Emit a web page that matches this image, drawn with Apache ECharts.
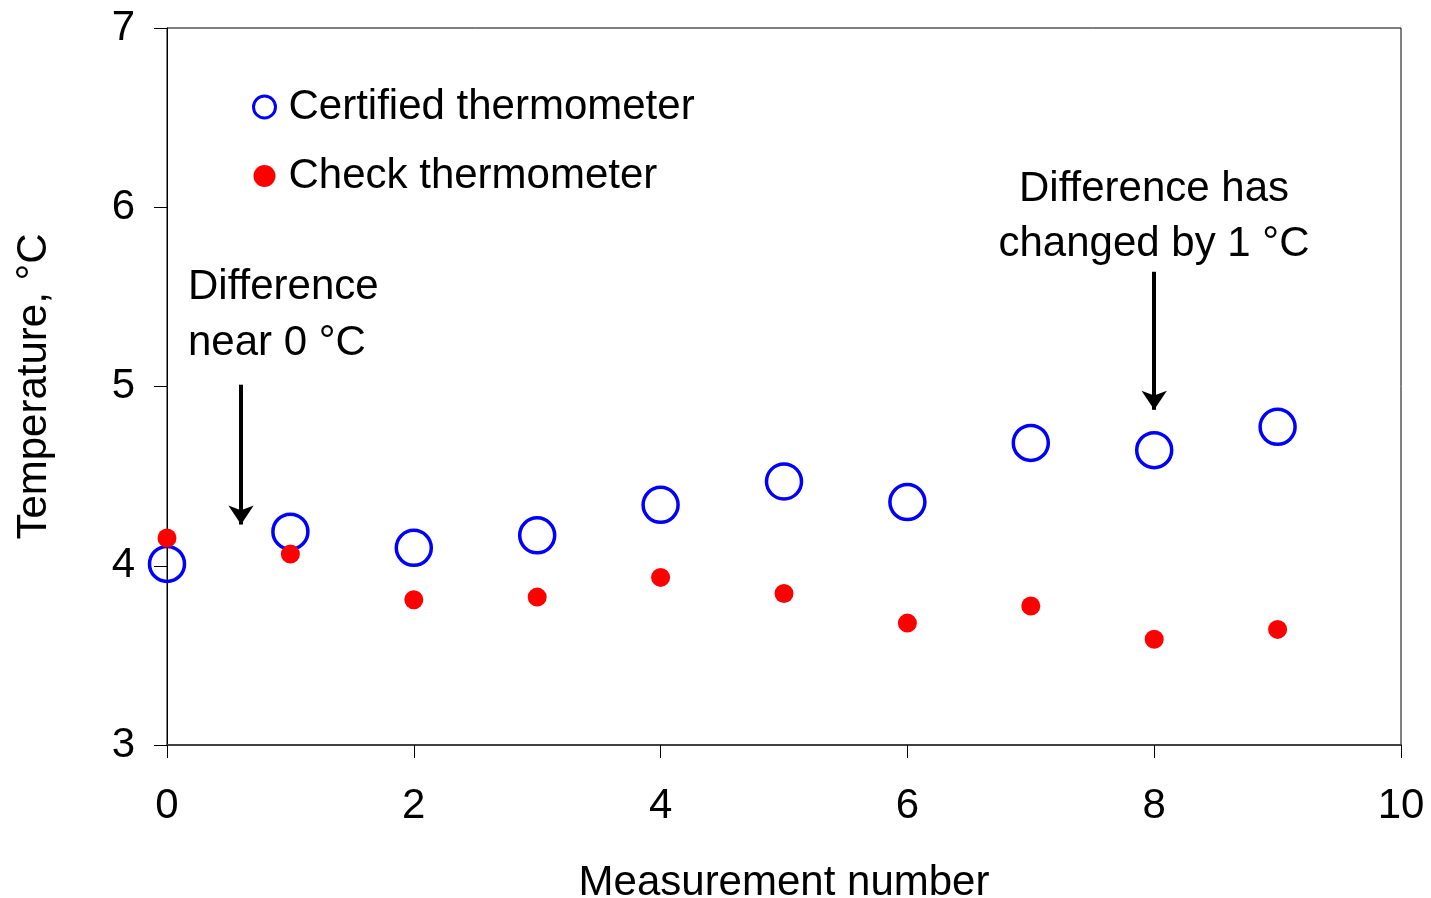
<!DOCTYPE html>
<html>
<head>
<meta charset="utf-8">
<script src="https://cdn.jsdelivr.net/npm/echarts@6/dist/echarts.min.js"></script>
<style>
  html, body { margin: 0; padding: 0; background: #fff; }
  #chart { width: 1431px; height: 898px; }
</style>
</head>
<body>
<div id="chart"></div>
<script>
// measurement numbers and readings (°C)
const measurement = [0, 1, 2, 3, 4, 5, 6, 7, 8, 9];
const certified = [4.01, 4.19, 4.10, 4.17, 4.34, 4.47, 4.355, 4.685, 4.645, 4.775];
const check = [4.155, 4.065, 3.81, 3.825, 3.935, 3.845, 3.68, 3.775, 3.59, 3.645];

// annotation arrows in data units: [x, yStart, yEnd]
const arrowNear0 = [0.6, 5.01, 4.23];
const arrowChanged = [8, 5.64, 4.87];

const FONT = "Liberation Sans, Arial, sans-serif";
const FS = 42;

const chart = echarts.init(document.getElementById("chart"));

const option = {
  animation: false,
  backgroundColor: "#fff",
  textStyle: { fontFamily: FONT, color: "#000" },
  grid: {
    left: 167, right: 30, top: 28, bottom: 153,
    show: true, borderColor: "#000", borderWidth: 1,
    containLabel: false, outerBoundsMode: "none"
  },
  legend: {
    orient: "vertical",
    left: 247, top: 81,
    itemGap: 27,
    itemWidth: 22, itemHeight: 22,
    textStyle: { fontFamily: FONT, fontSize: FS, color: "#000", padding: [0, 0, 0, 8] },
    data: [
      { name: "Certified thermometer", icon: "circle",
        itemStyle: { color: "#fff", borderColor: "#0000ff", borderWidth: 3, opacity: 1 } },
      { name: "Check thermometer", icon: "circle",
        itemStyle: { color: "#ff0000", borderWidth: 0, opacity: 1 } }
    ]
  },
  xAxis: {
    type: "value",
    min: 0, max: 10, interval: 2,
    name: "Measurement number",
    nameLocation: "middle",
    nameGap: 117,
    nameTextStyle: { fontFamily: FONT, fontSize: FS, color: "#000" },
    axisLine: { show: true, lineStyle: { color: "#404040", width: 2 } },
    axisTick: { show: true, inside: false, length: 13, lineStyle: { color: "#000", width: 1 } },
    axisLabel: { fontFamily: FONT, fontSize: FS, color: "#000", margin: 40 },
    splitLine: { show: false }
  },
  yAxis: {
    type: "value",
    min: 3, max: 7, interval: 1,
    name: "Temperature, °C",
    nameLocation: "middle",
    nameGap: 112,
    nameTextStyle: { fontFamily: FONT, fontSize: FS, color: "#000" },
    axisLine: { show: true, lineStyle: { color: "#000", width: 1 } },
    axisTick: { show: true, inside: false, length: 13, lineStyle: { color: "#000", width: 1 } },
    axisLabel: { fontFamily: FONT, fontSize: FS, color: "#000", margin: 32 },
    splitLine: { show: false }
  },
  series: [
    {
      name: "Certified thermometer",
      type: "scatter",
      symbol: "circle",
      symbolSize: 35,
      clip: false,
      itemStyle: { color: "rgba(255,255,255,0)", borderColor: "#0000ff", borderWidth: 3.5, opacity: 1 },
      data: measurement.map((m, i) => [m, certified[i]]),
      markLine: {
        silent: true,
        symbol: ["none", "arrow"],
        symbolSize: [19, 19],
        label: { show: false },
        lineStyle: { color: "#000", width: 4, type: "solid", opacity: 1 },
        data: [
          [{ coord: [arrowNear0[0], arrowNear0[1]] }, { coord: [arrowNear0[0], arrowNear0[2]] }],
          [{ coord: [arrowChanged[0], arrowChanged[1]] }, { coord: [arrowChanged[0], arrowChanged[2]] }]
        ]
      }
    },
    {
      name: "Check thermometer",
      type: "scatter",
      symbol: "circle",
      symbolSize: 19,
      clip: false,
      itemStyle: { color: "#ff0000", opacity: 1 },
      data: measurement.map((m, i) => [m, check[i]])
    }
  ],
  graphic: [
    {
      type: "text", left: 188, top: 259, silent: true,
      style: { text: "Difference\nnear 0 °C", font: FS + "px " + FONT, fill: "#000", lineHeight: 56 }
    },
    {
      type: "text", x: 1154, y: 162, silent: true,
      style: { text: "Difference has\nchanged by 1 °C", font: FS + "px " + FONT, fill: "#000",
        lineHeight: 55, align: "center", verticalAlign: "top" }
    }
  ]
};

chart.setOption(option);
</script>
</body>
</html>
